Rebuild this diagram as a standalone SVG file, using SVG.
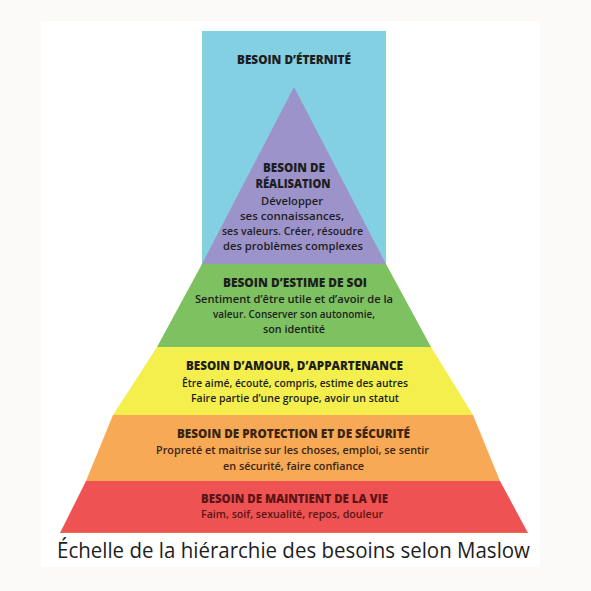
<svg xmlns="http://www.w3.org/2000/svg" width="591" height="591" viewBox="0 0 591 591">
<style>
.t{font-family:"Open Sans","Noto Sans","Liberation Sans",sans-serif;text-anchor:middle;fill:#1e1e1e}
.h{font-weight:800;font-size:12px}
.b{font-size:11px;font-weight:600}
.or{fill:#3b2510}
.rd{fill:#5c1414}
</style>
<rect x="0" y="0" width="591" height="591" fill="#fbfaf9"/>
<rect x="41" y="21" width="499" height="546" fill="#ffffff"/>
<g id="eternite">
<rect x="202" y="31" width="184" height="234" fill="#82d0e2"/>
<text class="t h" x="294" y="64" textLength="114" lengthAdjust="spacingAndGlyphs">BESOIN D’ÉTERNITÉ</text>
</g>
<g id="realisation">
<polygon points="294,87 386,264 202,264" fill="#9d93cb"/>
<text class="t h" x="294" y="172" font-size="12.5" textLength="62" lengthAdjust="spacingAndGlyphs">BESOIN DE</text>
<text class="t h" x="293" y="188" font-size="12.5" textLength="75" lengthAdjust="spacingAndGlyphs">RÉALISATION</text>
<text class="t b" x="292" y="204.5" textLength="62" lengthAdjust="spacingAndGlyphs">Développer</text>
<text class="t b" x="292" y="219.5" textLength="104" lengthAdjust="spacingAndGlyphs">ses connaissances,</text>
<text class="t b" x="292.5" y="234.5" textLength="141" lengthAdjust="spacingAndGlyphs">ses valeurs. Créer, résoudre</text>
<text class="t b" x="293" y="249.5" textLength="140" lengthAdjust="spacingAndGlyphs">des problèmes complexes</text>
</g>
<g id="estime">
<polygon points="202,264 386,264 431,347 157,347" fill="#7dc160"/>
<text class="t h" x="295" y="287" textLength="144" lengthAdjust="spacingAndGlyphs">BESOIN D’ESTIME DE SOI</text>
<text class="t b" x="294" y="302.5" textLength="198" lengthAdjust="spacingAndGlyphs">Sentiment d’être utile et d’avoir de la</text>
<text class="t b" x="294" y="317.5" textLength="162" lengthAdjust="spacingAndGlyphs">valeur. Conserver son autonomie,</text>
<text class="t b" x="294" y="332.5" textLength="62" lengthAdjust="spacingAndGlyphs">son identité</text>
</g>
<g id="amour">
<polygon points="157,347 431,347 473,415 113,415" fill="#f4ef4d"/>
<text class="t h" x="294.5" y="370" textLength="217" lengthAdjust="spacingAndGlyphs">BESOIN D’AMOUR, D’APPARTENANCE</text>
<text class="t b" x="295" y="386.5" textLength="226" lengthAdjust="spacingAndGlyphs">Être aimé, écouté, compris, estime des autres</text>
<text class="t b" x="295" y="401.5" textLength="208" lengthAdjust="spacingAndGlyphs">Faire partie d’une groupe, avoir un statut</text>
</g>
<g id="protection">
<polygon points="113,415 473,415 500,481 86,481" fill="#f7a955"/>
<text class="t h or" x="293.5" y="438" textLength="233" lengthAdjust="spacingAndGlyphs">BESOIN DE PROTECTION ET DE SÉCURITÉ</text>
<text class="t b or" x="292.5" y="453.5" textLength="273" lengthAdjust="spacingAndGlyphs">Propreté et maitrise sur les choses, emploi, se sentir</text>
<text class="t b or" x="293.5" y="469.5" textLength="141" lengthAdjust="spacingAndGlyphs">en sécurité, faire confiance</text>
</g>
<g id="vie">
<polygon points="86,481 500,481 528,533 60,533" fill="#ef5252"/>
<line x1="60" y1="532.5" x2="528" y2="532.5" stroke="#e8704a" stroke-width="1"/>
<text class="t h rd" x="294.5" y="503" textLength="187" lengthAdjust="spacingAndGlyphs">BESOIN DE MAINTIENT DE LA VIE</text>
<text class="t b rd" x="292" y="518" textLength="182" lengthAdjust="spacingAndGlyphs">Faim, soif, sexualité, repos, douleur</text>
</g>
<g id="titre">
<text class="t" x="293.5" y="558" font-size="21" textLength="473" lengthAdjust="spacingAndGlyphs">Échelle de la hiérarchie des besoins selon Maslow</text>
</g>
</svg>
